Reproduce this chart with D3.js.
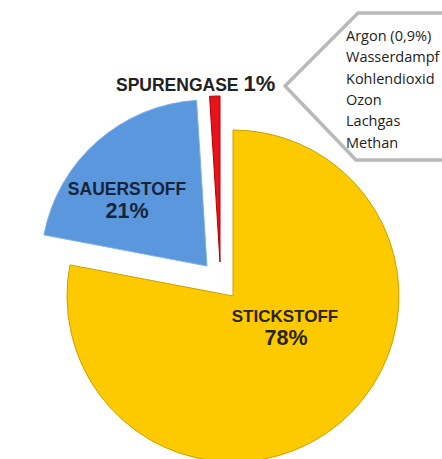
<!DOCTYPE html>
<html>
<head>
<meta charset="utf-8">
<script src="https://cdn.jsdelivr.net/npm/d3@7"></script>
<style>
  body { margin: 0; background: #fff; }
  svg { display: block; }
</style>
</head>
<body>
<svg id="chart"></svg>
<script>
'use strict';
// Zusammensetzung der Luft
const gases = ["STICKSTOFF", "SAUERSTOFF", "SPURENGASE"];
const shares = [78, 21, 1];
const traceGases = ["Argon (0,9%)", "Wasserdampf", "Kohlendioxid", "Ozon", "Lachgas", "Methan"];

const colors = ["#fdca00", "#5b97dc", "#e8121a"];
const strokes = ["#c9a100", "#7fb0ea", "#b50000"];

function getConfig() {
    let width = 442, height = 459;
    let svg = d3.select("#chart")
        .attr("width", width)
        .attr("height", height);
    let center = { x: 233, y: 296 };
    let radius = 166;
    // explode offsets for each slice
    let explode = [[0, 0], [-26, -30], [-13, -34]];
    return { svg, width, height, center, radius, explode };
}

function drawPie(config) {
    let { svg, center, radius, explode } = config;

    let pie = d3.pie().sort(null).value(d => d.value);
    let arc = d3.arc().innerRadius(0).outerRadius(radius);

    let data = gases.map((g, i) => ({ name: g, value: shares[i] }));

    svg.append("g")
        .selectAll("path")
        .data(pie(data))
        .enter()
        .append("path")
        .attr("transform", (d, i) => "translate(" + (center.x + explode[i][0]) + "," + (center.y + explode[i][1]) + ")")
        .attr("d", arc)
        .attr("fill", (d, i) => colors[i])
        .attr("stroke", (d, i) => strokes[i])
        .attr("stroke-width", 1);
}

function drawLabels(config) {
    let { svg } = config;
    let font = "'Liberation Sans', Arial, sans-serif";

    // Stickstoff
    let st = svg.append("text")
        .attr("text-anchor", "middle")
        .style("font-family", font)
        .style("font-weight", "bold")
        .attr("fill", "#2b2200");
    st.append("tspan").attr("x", 285).attr("y", 322).style("font-size", "17px").text(gases[0]);
    st.append("tspan").attr("x", 286).attr("y", 345).style("font-size", "21.5px").text(shares[0] + "%");

    // Sauerstoff
    let sa = svg.append("text")
        .attr("text-anchor", "middle")
        .style("font-family", font)
        .style("font-weight", "bold")
        .attr("fill", "#17253a");
    sa.append("tspan").attr("x", 127).attr("y", 195).style("font-size", "17.5px").text(gases[1]);
    sa.append("tspan").attr("x", 127).attr("y", 218).style("font-size", "21.5px").text(shares[1] + "%");

    // Spurengase
    let sp = svg.append("text")
        .attr("x", 116)
        .attr("y", 91)
        .style("font-family", font)
        .style("font-weight", "bold")
        .attr("fill", "#222");
    sp.append("tspan").style("font-size", "17.5px").text(gases[2] + " ");
    sp.append("tspan").style("font-size", "22px").text(shares[2] + "%");
}

function drawCallout(config) {
    let { svg } = config;
    let pts = [[285, 86], [358, 13], [452, 13], [452, 160], [356, 160]];

    svg.append("path")
        .attr("d", d3.line()(pts) + "Z")
        .attr("fill", "#fff")
        .attr("stroke", "#b9b9b9")
        .attr("stroke-width", 3.5)
        .attr("stroke-linejoin", "round");

    svg.append("g")
        .selectAll("text")
        .data(traceGases)
        .enter()
        .append("text")
        .attr("x", 346)
        .attr("y", (d, i) => 41 + i * 21.3)
        .style("font-family", "'Open Sans', sans-serif")
        .style("font-size", "14.5px")
        .attr("fill", "#222")
        .text(d => d);
}

function drawChart() {
    let config = getConfig();
    drawPie(config);
    drawCallout(config);
    drawLabels(config);
}

drawChart();
</script>
</body>
</html>
